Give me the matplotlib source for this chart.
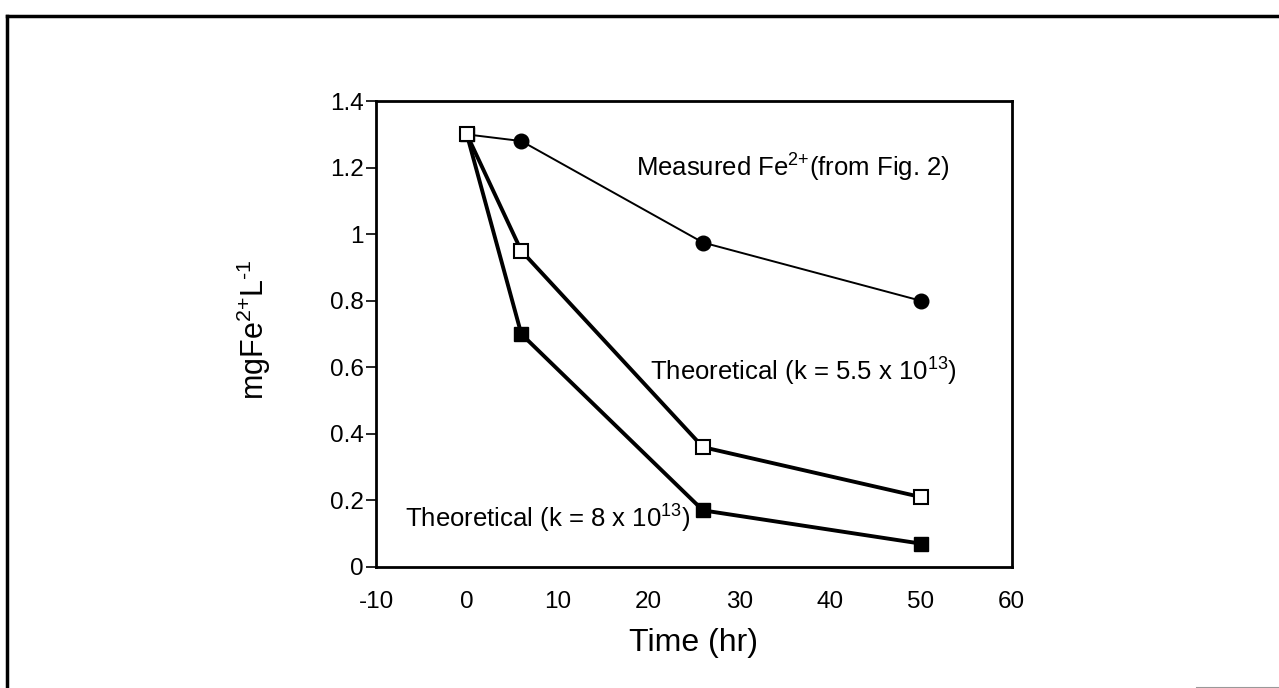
import matplotlib
matplotlib.use("Agg")
import matplotlib.pyplot as plt
from matplotlib.lines import Line2D

plt.rcParams["font.family"] = ["Liberation Sans", "DejaVu Sans"]
plt.rcParams["mathtext.fontset"] = "custom"
plt.rcParams["mathtext.rm"] = "Liberation Sans"
plt.rcParams["mathtext.it"] = "Liberation Sans"
plt.rcParams["mathtext.default"] = "regular"
plt.rcParams["axes.unicode_minus"] = False

# data
time_hr = [0, 6, 26, 50]
measured = [1.30, 1.28, 0.975, 0.80]
theo_k55 = [1.30, 0.95, 0.36, 0.21]
theo_k8 = [1.30, 0.70, 0.17, 0.07]

x_ticks = [-10, 0, 10, 20, 30, 40, 50, 60]
y_ticks = [0, 0.2, 0.4, 0.6, 0.8, 1.0, 1.2, 1.4]
y_tick_labels = ["0", "0.2", "0.4", "0.6", "0.8", "1", "1.2", "1.4"]

fig = plt.figure(figsize=(12.79, 6.88), dpi=100)
ax = fig.add_axes([0.294, 0.176, 0.497, 0.677])

ax.plot(time_hr, theo_k8, color="black", lw=2.8, marker="s", ms=10,
        mfc="black", mec="black", zorder=3)
ax.plot(time_hr, theo_k55, color="black", lw=2.8, marker="s", ms=10,
        mfc="white", mec="black", mew=1.5, zorder=4)
ax.plot(time_hr[1:], measured[1:], color="black", lw=1.4, marker="o", ms=10.5,
        mfc="black", mec="black", zorder=3)
# measured line starts at t=0 but the point is hidden under the open square
ax.plot(time_hr[:2], measured[:2], color="black", lw=1.4, zorder=2)

ax.text(18.6, 1.20, "Measured Fe$^{2{+}}$(from Fig. 2)", fontsize=18.5,
        va="center", ha="left")
ax.text(20.2, 0.585, "Theoretical (k = 5.5 x 10$^{13}$)", fontsize=18.5,
        va="center", ha="left")
ax.text(-6.8, 0.145, "Theoretical (k = 8 x 10$^{13}$)", fontsize=18.5,
        va="center", ha="left")

ax.set_xlim(-10, 60)
ax.set_ylim(0, 1.4)
ax.set_xticks(x_ticks)
ax.set_yticks(y_ticks)
ax.set_yticklabels(y_tick_labels)
ax.tick_params(axis="x", length=0, pad=17, labelsize=17.5)
ax.tick_params(axis="y", length=7, width=1.2, pad=2, labelsize=17.5)
for s in ax.spines.values():
    s.set_linewidth(2)

ax.set_xlabel("Time (hr)", fontsize=23)
ax.xaxis.set_label_coords(0.5, -0.132)
ax.set_ylabel("mgFe$^{2{+}}$L$^{\\text{-}1}$", fontsize=22)
ax.yaxis.set_label_coords(-0.162, 0.51)

# outer frame (only the top and left edges show in the scan)
fig.add_artist(Line2D([7 / 1279, 1.0], [1 - 16 / 688, 1 - 16 / 688],
                      transform=fig.transFigure, color="black", lw=2.5))
fig.add_artist(Line2D([7 / 1279, 7 / 1279], [0.0, 1 - 16 / 688],
                      transform=fig.transFigure, color="black", lw=2.5))
fig.add_artist(Line2D([1197 / 1279, 1.0], [0.5 / 688, 0.5 / 688],
                      transform=fig.transFigure, color="#999999", lw=1.5))

fig.savefig("out.png", dpi=100)
